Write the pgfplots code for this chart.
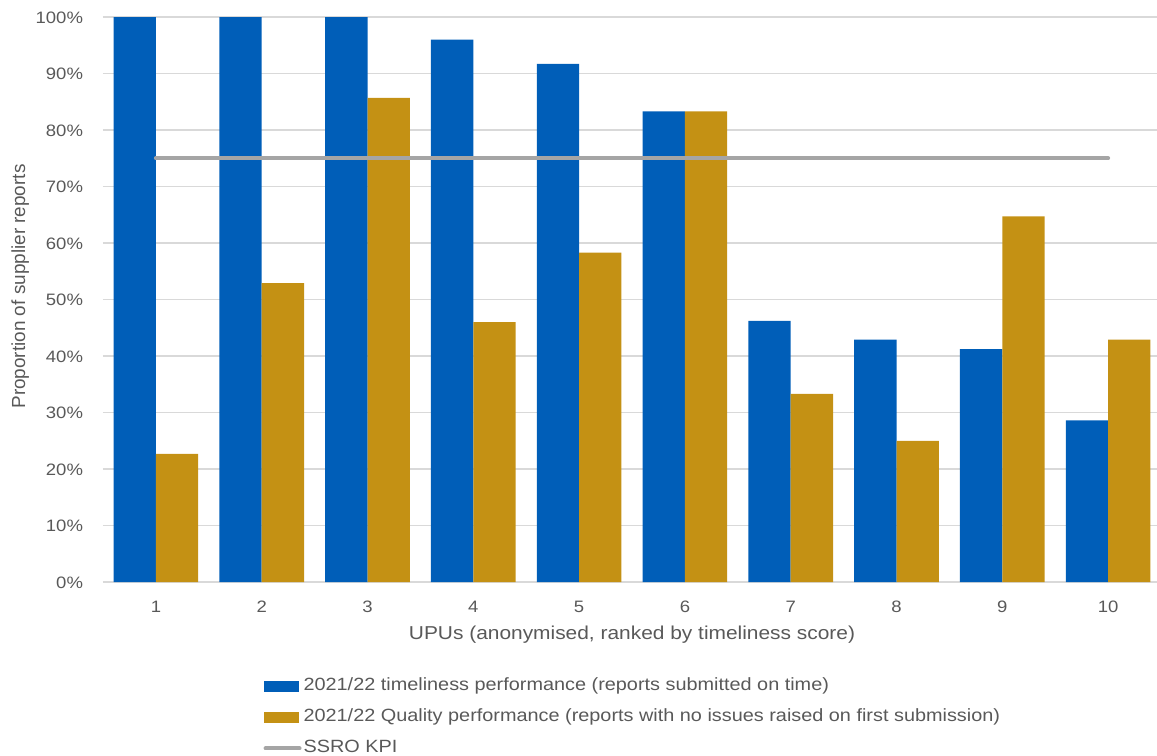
\documentclass[border=0pt]{standalone}
\usepackage{pgfplots}
\pgfplotsset{compat=1.18}
\usepackage{fontspec}
\setmainfont{Liberation Sans}
\newfontfamily\wide[FakeStretch=1.12]{Liberation Sans}
\definecolor{nhsblue}{HTML}{005EB8}
\definecolor{gold}{HTML}{C49114}
\definecolor{kpigrey}{HTML}{A5A5A5}
\definecolor{gridgrey}{HTML}{D9D9D9}
\definecolor{textgrey}{HTML}{595959}

\begin{document}
\begin{tikzpicture}
\useasboundingbox (0,0) rectangle (867.75pt,-567pt);
\begin{axis}[
  at={(77.25pt,-436.5pt)}, anchor=south west,
  scale only axis, width=793.5pt, height=423.75pt,
  xmin=0.5, xmax=10.5, ymin=0, ymax=100,
  xtick={1,...,10}, ytick={0,10,...,100},
  ymajorgrids, grid style={gridgrey, line width=1.2pt},
  axis line style={draw=none}, major tick length=0pt,
  /pgf/number format/assume math mode=true,
  yticklabel={\pgfmathprintnumber{\tick}\%},
  tick label style={font=\wide\fontsize{12.4}{15}\selectfont, text=textgrey},
  yticklabel style={anchor=base east, inner sep=0pt, xshift=-14.8pt, yshift=-4.7pt},
  xticklabel style={anchor=base, inner sep=0pt, yshift=-22.6pt},
  xlabel={UPUs (anonymised, ranked by timeliness score)},
  xlabel style={at={(axis description cs:0.5,-0.1009)}, anchor=base, inner sep=0pt,
    font=\wide\fontsize{14}{16}\selectfont, text=textgrey},
  ylabel={Proportion of supplier reports},
  ylabel style={at={(axis description cs:-0.0737,0.523)}, anchor=base, inner sep=0pt,
    font=\fontsize{14.2}{16}\selectfont, text=textgrey},
  legend cell align=left,
  legend style={at={(0.1515,-0.1706)}, anchor=north west, draw=none, fill=none,
    inner sep=0pt, font=\wide\fontsize{13.3}{15}\selectfont, text=textgrey,
    row sep=11.55pt,
    nodes={inner sep=0pt, text height=9.2pt, text depth=2.5pt},
    /tikz/every odd column/.style={column sep=1.5pt}},
]
% timeliness
\addplot[ybar, bar width=0.4, bar shift=-0.2, fill=nhsblue, draw=none,
  legend image code/.code={\fill[nhsblue] (0pt,-4pt) rectangle (26.25pt,4pt);}]
  coordinates {(1,100) (2,100) (3,100) (4,96.0) (5,91.7) (6,83.3) (7,46.2) (8,42.9) (9,41.2) (10,28.6)};
\addlegendentry{2021/22 timeliness performance (reports submitted on time)}
% quality
\addplot[ybar, bar width=0.4, bar shift=0.2, fill=gold, draw=none,
  legend image code/.code={\fill[gold] (0pt,-4pt) rectangle (26.25pt,4pt);}]
  coordinates {(1,22.7) (2,52.9) (3,85.7) (4,46.0) (5,58.3) (6,83.3) (7,33.3) (8,25.0) (9,64.7) (10,42.9)};
\addlegendentry{2021/22 Quality performance (reports with no issues raised on first submission)}
% KPI target
\addplot[kpigrey, line width=3pt, line cap=round, mark=none,
  legend image code/.code={\draw[kpigrey, line width=3pt, line cap=round] (1pt,0pt) -- (26.5pt,0pt);}]
  coordinates {(1,75) (10,75)};
\addlegendentry{SSRO KPI}
\end{axis}
\end{tikzpicture}
\end{document}
